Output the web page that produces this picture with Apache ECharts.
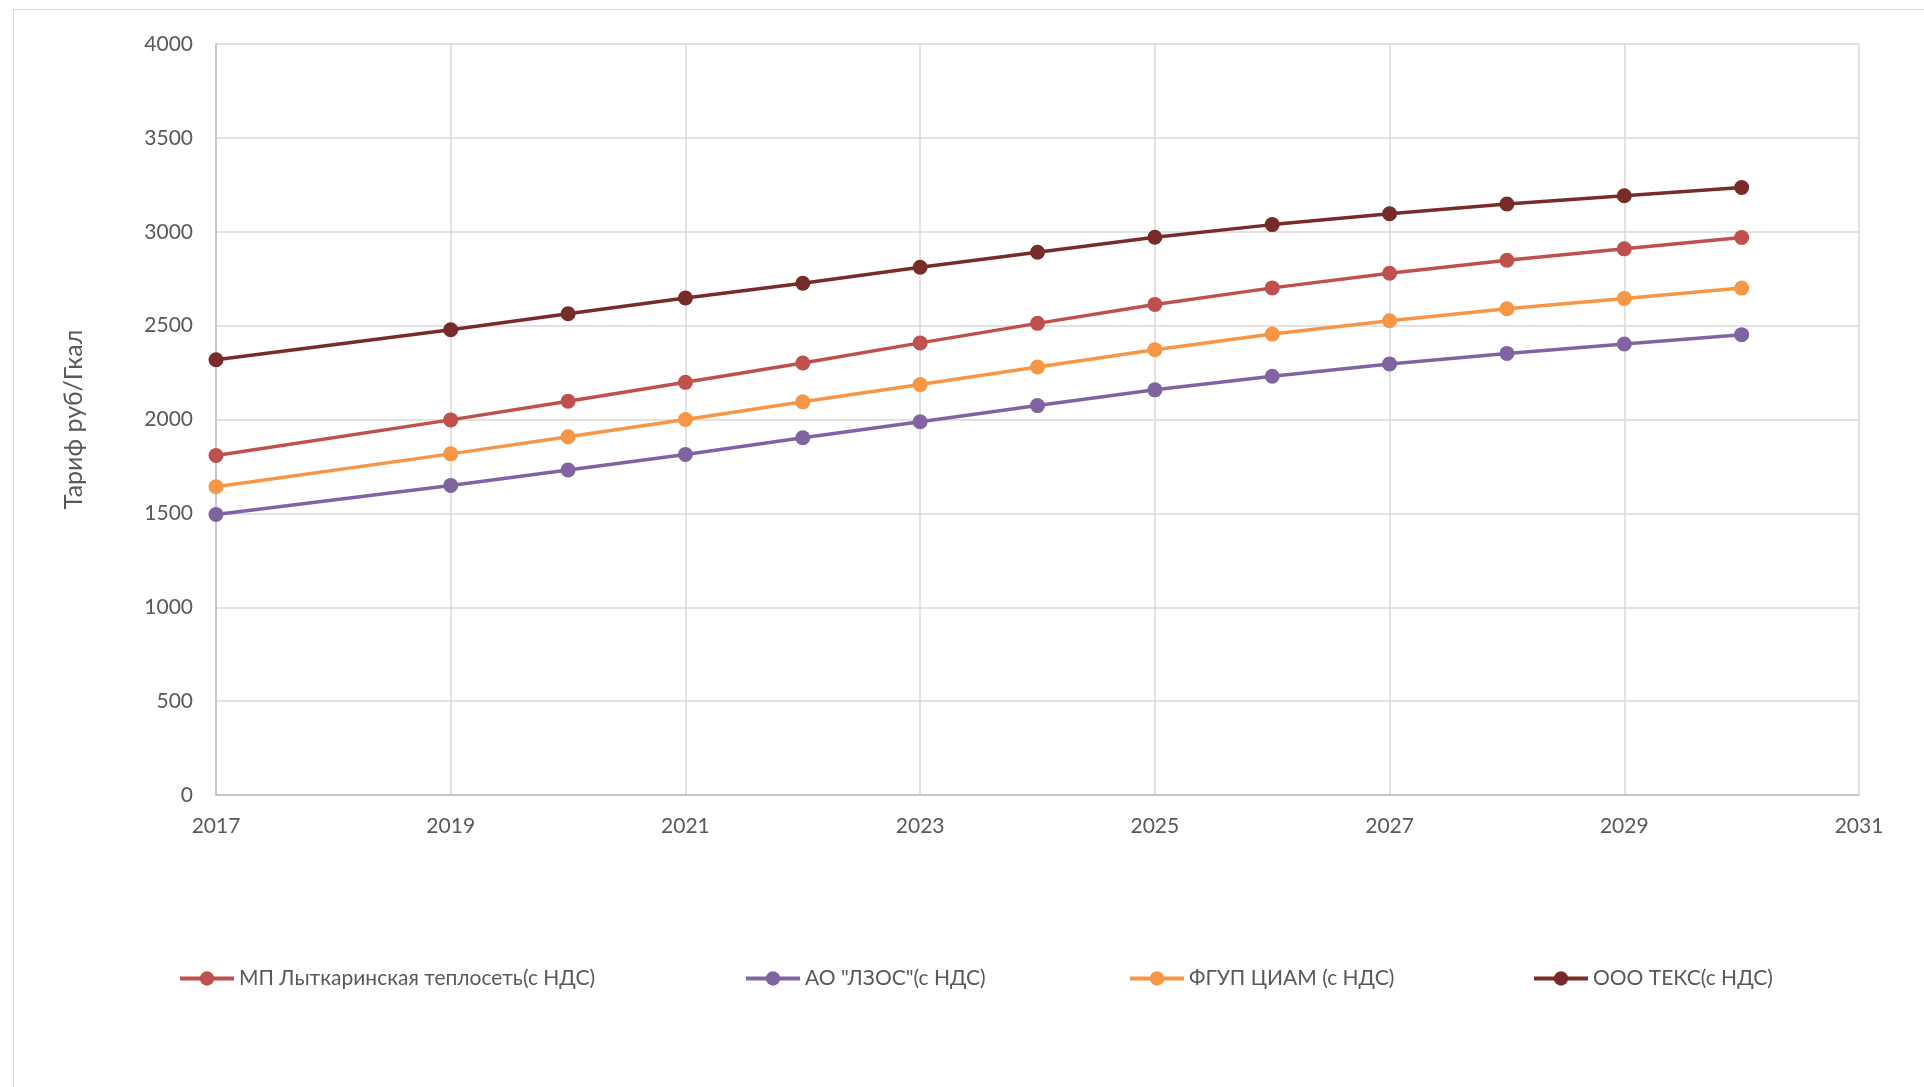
<!DOCTYPE html>
<html>
<head>
<meta charset="utf-8">
<script src="https://cdn.jsdelivr.net/npm/echarts@6/dist/echarts.min.js"></script>
<style>
  html, body { margin: 0; padding: 0; background: #ffffff; }
  #chart { width: 1924px; height: 1087px; }
</style>
</head>
<body>
<div id="chart"></div>
<script>
// Годы расчёта тарифа
const years = [2017, 2019, 2020, 2021, 2022, 2023, 2024, 2025, 2026, 2027, 2028, 2029, 2030];

// Тарифы, руб/Гкал (с НДС)
const lytkarinoTeploset = [1808, 1998, 2097, 2198, 2301, 2408, 2512, 2613, 2701, 2779, 2848, 2909, 2969];
const lzos             = [1494, 1649, 1731, 1814, 1903, 1988, 2074, 2158, 2230, 2296, 2352, 2402, 2452];
const fgupCiam         = [1642, 1817, 1908, 2000, 2094, 2186, 2280, 2372, 2455, 2526, 2590, 2645, 2700];
const oooTeks          = [2318, 2478, 2563, 2647, 2726, 2811, 2891, 2971, 3038, 3096, 3148, 3192, 3236];

const seriesNames = [
  'МП Лыткаринская теплосеть(с НДС)',
  'АО "ЛЗОС"(с НДС)',
  'ФГУП ЦИАМ (с НДС)',
  'ООО ТЕКС(с НДС)'
];
const seriesValues = [lytkarinoTeploset, lzos, fgupCiam, oooTeks];
const seriesColors = ['#C0504D', '#8064A2', '#F79646', '#772C2A'];

// Ось X: первый год шкалы и шаг подписей
const firstYear = 2017;
const lastYear = 2031;
const yearStep = 2;

const font = 'Lato, "Open Sans", sans-serif';
const textColor = '#595959';

const chart = echarts.init(document.getElementById('chart'), null, { renderer: 'canvas' });

const series = seriesNames.map((name, i) => ({
  name: name,
  type: 'line',
  data: years.map((y, k) => [y - firstYear, seriesValues[i][k]]),
  symbol: 'circle',
  symbolSize: 15,
  showSymbol: true,
  lineStyle: { width: 3.5, color: seriesColors[i] },
  itemStyle: { color: seriesColors[i] },
  emphasis: { disabled: true },
  z: 10 - i
}));

const legendLeft = [178, 744, 1128, 1532];
const legends = seriesNames.map((name, i) => ({
  data: [name],
  left: legendLeft[i],
  top: 968,
  padding: 0,
  itemWidth: 54,
  itemHeight: 18,
  itemGap: 6,
  lineStyle: { width: 4 },
  textStyle: { fontFamily: font, fontSize: 21, color: textColor },
  selectedMode: false
}));

chart.setOption({
  animation: false,
  backgroundColor: '#ffffff',
  graphic: [{
    type: 'rect',
    shape: { x: 13.5, y: 9.5, width: 1940, height: 1100 },
    style: { fill: 'none', stroke: '#d9d9d9', lineWidth: 1 },
    silent: true
  }],
  grid: { left: 216, right: 65, top: 44, bottom: 292 },
  legend: legends,
  xAxis: {
    type: 'value',
    min: 0,
    max: lastYear - firstYear,
    interval: yearStep,
    axisLine: { show: true, lineStyle: { color: '#bfbfbf', width: 1.5 } },
    axisTick: { show: false },
    axisLabel: {
      color: textColor, fontFamily: font, fontSize: 21, margin: 21,
      formatter: v => String(v + firstYear)
    },
    splitLine: { show: true, lineStyle: { color: '#d9d9d9', width: 1.5 } }
  },
  yAxis: {
    type: 'value',
    min: 0,
    max: 4000,
    interval: 500,
    name: 'Тариф руб/Гкал',
    nameLocation: 'middle',
    nameRotate: 90,
    nameGap: 130,
    nameTextStyle: { color: textColor, fontFamily: font, fontSize: 25 },
    axisLine: { show: true, lineStyle: { color: '#bfbfbf', width: 1.5 } },
    axisTick: { show: false },
    axisLabel: {
      color: textColor, fontFamily: font, fontSize: 21, margin: 23,
      formatter: v => String(v)
    },
    splitLine: { show: true, lineStyle: { color: '#d9d9d9', width: 1.5 } }
  },
  series: series
});
</script>
</body>
</html>
